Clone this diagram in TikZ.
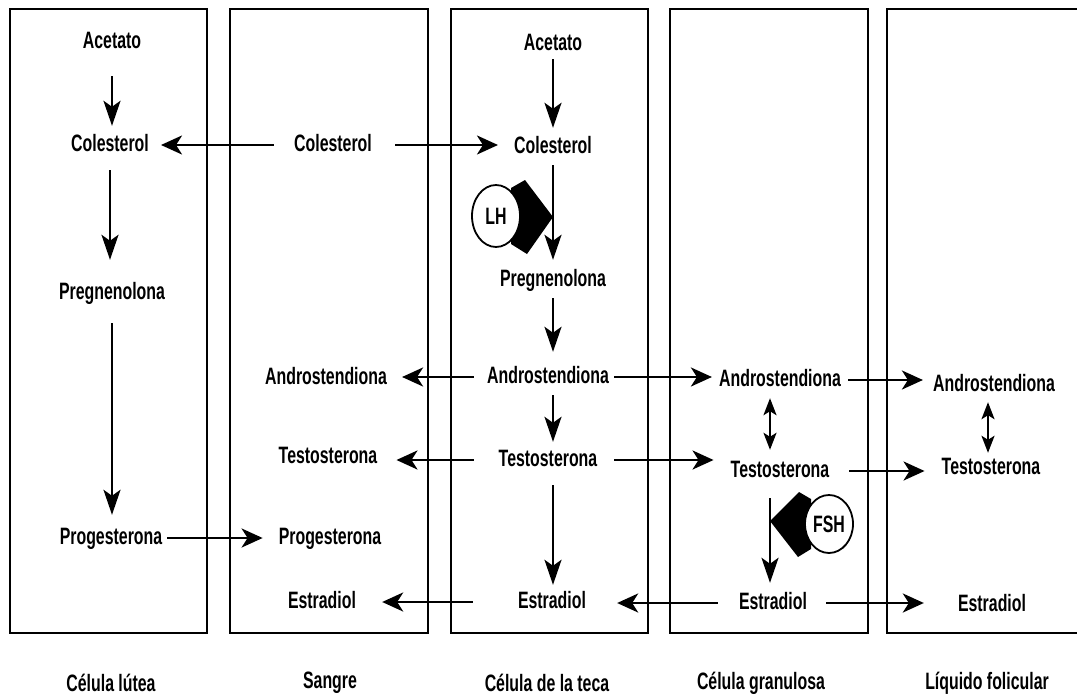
\documentclass[tikz,border=0pt]{standalone}
\usepackage{fontspec}
\setmainfont{Liberation Sans}[FakeStretch=0.67]
\usetikzlibrary{arrows.meta,shapes.geometric,backgrounds}

\begin{document}
\begin{tikzpicture}[
    x=1pt, y=-1pt,
    every node/.style={font=\bfseries\fontsize{23.7}{28}\selectfont},
    met/.style={inner sep=0pt, text height=17pt, text depth=5pt}, % metabolito
    cellbox/.style={draw, line width=2pt},
    varr/.style={-{Stealth[length=25pt,width=17pt,inset=6pt]}, line width=2.6pt},
    harr/.style={-{Stealth[length=21pt,width=19pt,inset=6pt]}, line width=2.6pt},
    dbl/.style={{Stealth[length=17pt,width=13pt,inset=4pt]}-{Stealth[length=17pt,width=13pt,inset=4pt]}, line width=2.2pt},
    hormone/.style={ellipse, draw, line width=1.8pt, fill=white, minimum width=48pt, minimum height=62pt, inner sep=0pt}
    ]
    \useasboundingbox (0,0) rectangle (1077,699);

    % compartimentos
    \draw[cellbox] (10,9) rectangle (207,633);
    \draw[cellbox] (230,9) rectangle (428,633);
    \draw[cellbox] (451,9) rectangle (648,633);
    \draw[cellbox] (670,9) rectangle (868,633);
    \draw[cellbox] (887,9) rectangle (1095,633);

    % celula lutea
    \node[met] (ac1) at (112,42) {Acetato};
    \node[met] (col1) at (110,145) {Colesterol};
    \node[met] (preg1) at (112,293) {Pregnenolona};
    \node[met] (prog1) at (111,538) {Progesterona};
    % sangre
    \node[met] (col2) at (333,145) {Colesterol};
    \node[met] (andro2) at (326,378) {Androstendiona};
    \node[met] (testo2) at (328,457) {Testosterona};
    \node[met] (prog2) at (330,538) {Progesterona};
    \node[met] (estr2) at (322,602) {Estradiol};
    % celula de la teca
    \node[met] (ac3) at (553,44) {Acetato};
    \node[met] (col3) at (553,147) {Colesterol};
    \node[met] (preg3) at (553,280) {Pregnenolona};
    \node[met] (andro3) at (548,377) {Androstendiona};
    \node[met] (testo3) at (548,460) {Testosterona};
    \node[met] (estr3) at (552,602) {Estradiol};
    % celula granulosa
    \node[met] (andro4) at (780,380) {Androstendiona};
    \node[met] (testo4) at (780,471) {Testosterona};
    \node[met] (estr4) at (773,603) {Estradiol};
    % liquido folicular
    \node[met] (andro5) at (994,385) {Androstendiona};
    \node[met] (testo5) at (991,468) {Testosterona};
    \node[met] (estr5) at (992,605) {Estradiol};

    % hormonas
    \node[hormone] (lh) at (496,216) {LH};
    \node[hormone, minimum height=58pt] (fsh) at (829,524) {FSH};
    \begin{scope}[on background layer]
        \fill ([shift={(15,-28)}]lh.center) -- ([shift={(29,-36)}]lh.center) -- ([shift={(57,1)}]lh.center)
            -- ([shift={(31,38)}]lh.center) -- ([shift={(15,28)}]lh.center) -- cycle;
        \fill ([shift={(-18,-25)}]fsh.center) -- ([shift={(-30,-32)}]fsh.center) -- ([shift={(-59,-3)}]fsh.center)
            -- ([shift={(-31,33)}]fsh.center) -- ([shift={(-18,25)}]fsh.center) -- cycle;
    \end{scope}

    % vias verticales
    \draw[varr, shorten <=23pt, shorten >=8pt] (ac1.south) -- (ac1.south |- col1.north);
    \draw[varr, shorten <=14pt, shorten >=22pt] (col1.south) -- (col1.south |- preg1.north);
    \draw[varr, shorten <=19pt, shorten >=12pt] (preg1.south) -- (preg1.south |- prog1.north);
    \draw[varr, shorten <=4pt, shorten >=8pt] (ac3.south) -- (ac3.south |- col3.north);
    \draw[varr, shorten <=7pt, shorten >=9pt] (col3.south) -- (col3.south |- preg3.north);
    \draw[varr, shorten <=7pt, shorten >=14pt] (preg3.south) -- (preg3.south |- andro3.north);
    \draw[varr, shorten <=7pt, shorten >=7pt] (andro3.south -| preg3.south) -- (preg3.south |- testo3.north);
    \draw[varr, shorten <=14pt, shorten >=6pt] (testo3.south -| preg3.south) -- (preg3.south |- estr3.north);
    \draw[dbl, shorten <=7pt, shorten >=10pt] ([xshift=-10pt]andro4.south) -- ([xshift=-10pt]andro4.south |- testo4.north);
    \draw[varr, shorten <=16pt, shorten >=9pt] ([xshift=-10pt]testo4.south) -- ([xshift=-10pt]testo4.south |- estr4.north);
    \draw[dbl, shorten <=6pt, shorten >=4pt] ([xshift=-6pt]andro5.south) -- ([xshift=-6pt]andro5.south |- testo5.north);

    % transporte entre compartimentos
    \draw[harr, shorten <=20pt, shorten >=12pt] (col2.west) -- (col2.west -| col1.east);
    \draw[harr, shorten <=23pt, shorten >=16pt] (col2.east) -- (col2.east -| col3.west);
    \draw[harr, shorten <=5pt, shorten >=16pt] (prog1.east) -- (prog1.east -| prog2.west);
    \draw[harr, shorten <=13pt, shorten >=15pt] (andro3.west) -- (andro3.west -| andro2.east);
    \draw[harr, shorten <=5pt, shorten >=7pt] (andro3.east) -- (andro3.east -| andro4.west);
    \draw[harr, shorten <=25pt, shorten >=19pt] (testo3.west) -- (testo3.west -| testo2.east);
    \draw[harr, shorten <=17pt, shorten >=17pt] (testo3.east) -- (testo3.east -| testo4.west);
    \draw[harr, shorten <=45pt, shorten >=26pt] (estr3.west) -- (estr3.west -| estr2.east);
    \draw[harr, shorten <=21pt, shorten >=31pt] (estr4.west) -- (estr4.west -| estr3.east);
    \draw[harr, shorten <=7pt, shorten >=10pt] (andro4.east) -- (andro4.east -| andro5.west);
    \draw[harr, shorten <=20pt, shorten >=17pt] (testo4.east) -- (testo4.east -| testo5.west);
    \draw[harr, shorten <=19pt, shorten >=34pt] (estr4.east) -- (estr4.east -| estr5.west);

    % rotulos
    \node (lab1) at (111,683) {Célula lútea};
    \node (lab2) at (330,683) {Sangre};
    \node (lab3) at (547,683) {Célula de la teca};
    \node (lab4) at (761,683) {Célula granulosa};
    \node (lab5) at (987,683) {Líquido folicular};
\end{tikzpicture}
\end{document}
